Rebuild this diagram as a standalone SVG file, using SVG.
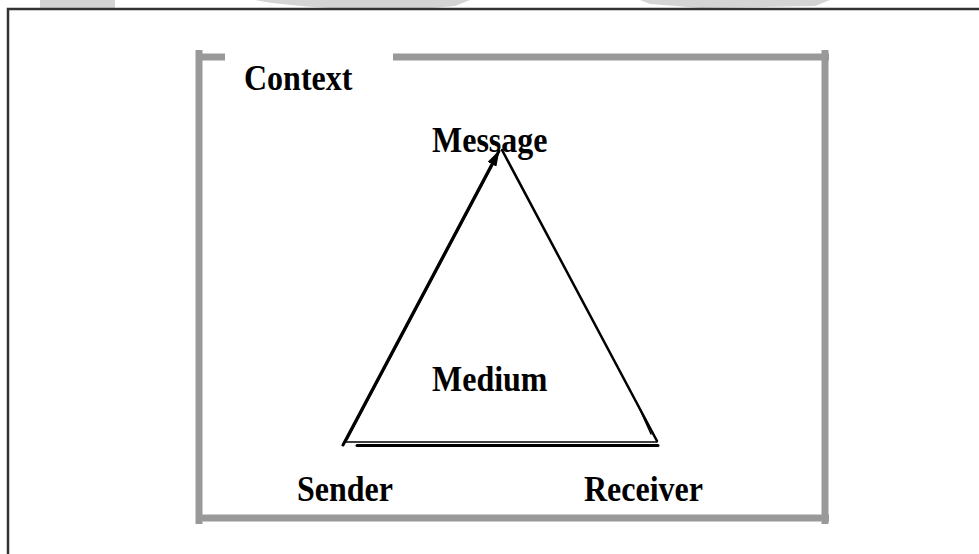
<svg xmlns="http://www.w3.org/2000/svg" width="979" height="554" viewBox="0 0 979 554">
<defs>
<style>
.lbl{font-family:"Liberation Serif","Times New Roman",serif;font-weight:bold;font-size:32px;fill:#000}
.box{stroke:#999;stroke-width:7;fill:none}
.ln{stroke:#000;fill:none;stroke-linecap:round}
.wm{fill:#d4d4d4}
</style>
<marker id="ah" viewBox="0 0 16 10" refX="15" refY="5" markerWidth="16" markerHeight="10" markerUnits="userSpaceOnUse" orient="auto">
<path d="M0,0 L16,5 L0,10 Z" fill="#000"/>
</marker>
</defs>
<rect width="979" height="554" fill="#fff"/>
<g id="watermark">
<rect class="wm" x="40" y="0" width="75" height="8"/>
<path class="wm" d="M255,0 H470 L455,6 Q400,12 330,8 Q280,5 255,0 Z"/>
<path class="wm" d="M640,0 H830 L815,6 L700,8 L650,4 Z"/>
</g>
<path d="M8,554 V9 H979" stroke="#333" stroke-width="2.5" fill="none"/>
<g id="context-frame">
<path class="box" d="M199,50 V524"/>
<path class="box" d="M825,50 V524"/>
<path class="box" d="M196,57 H225"/>
<path class="box" d="M393,57 H829"/>
<path class="box" d="M196,518 H829"/>
</g>
<g id="connectors">
<line class="ln" x1="343" y1="445" x2="499" y2="151" stroke-width="3" marker-end="url(#ah)"/>
<line class="ln" x1="347" y1="440" x2="494" y2="163" stroke-width="1.3"/>
<line class="ln" x1="502" y1="150" x2="657" y2="441" stroke-width="2.5"/>
<line class="ln" x1="638" y1="405" x2="651" y2="434" stroke-width="1.5"/>
<line class="ln" x1="346" y1="442" x2="657" y2="442" stroke-width="1.5" stroke="#444"/>
<line class="ln" x1="357" y1="445.5" x2="658" y2="445.5" stroke-width="3"/>
</g>
<g id="context"><text class="lbl" transform="translate(244,90) scale(1,1.1)">Context</text></g>
<g id="message"><text class="lbl" transform="translate(432,152) scale(1,1.1)">Message</text></g>
<g id="medium"><text class="lbl" transform="translate(432,391) scale(1,1.1)">Medium</text></g>
<g id="sender"><text class="lbl" transform="translate(297,501) scale(1,1.1)">Sender</text></g>
<g id="receiver"><text class="lbl" transform="translate(584,501) scale(1,1.1)">Receiver</text></g>
</svg>
